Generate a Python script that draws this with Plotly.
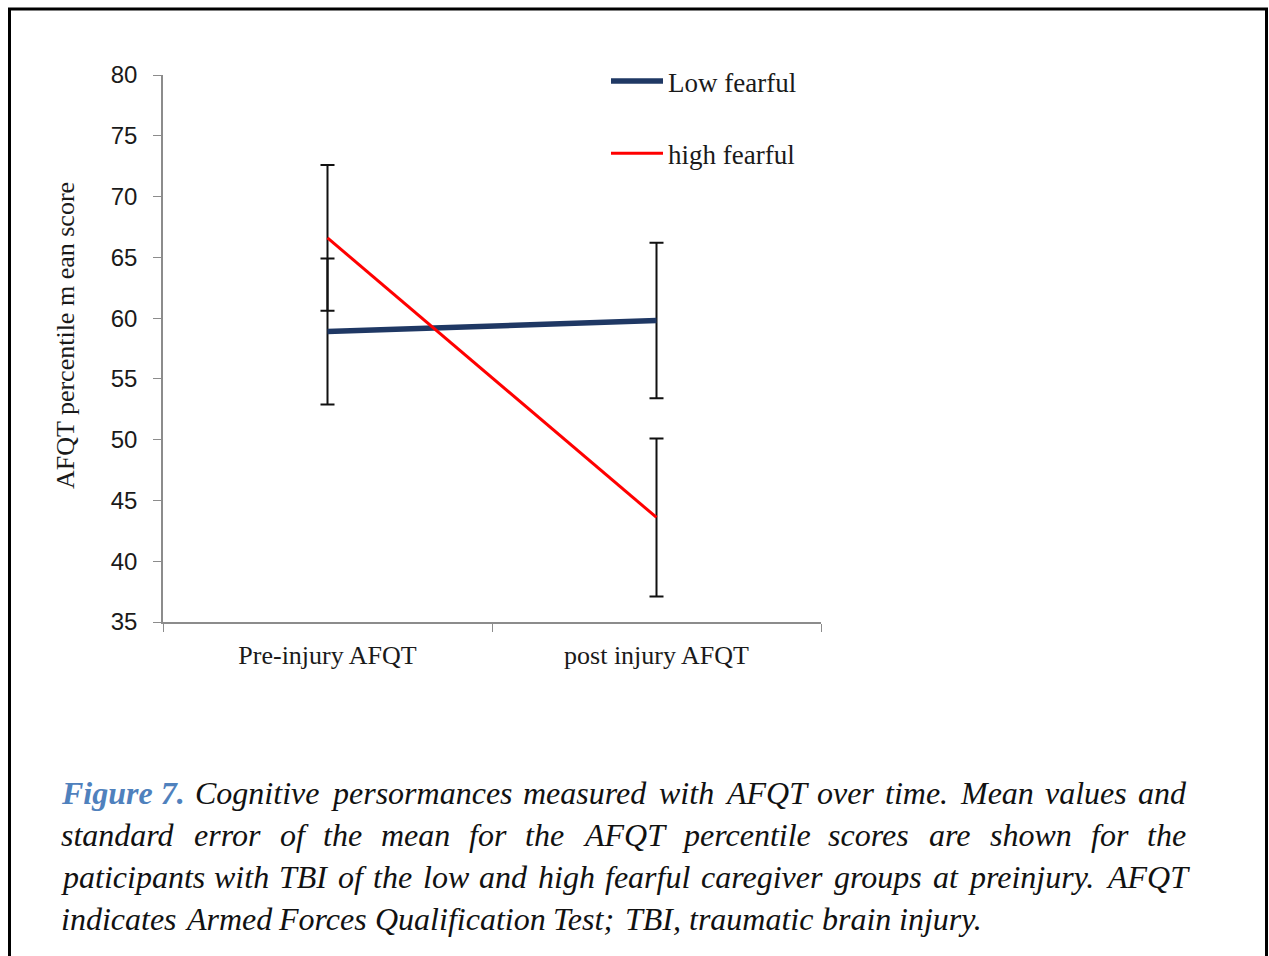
import plotly.graph_objects as go

# Data: AFQT percentile means and standard errors
categories = ["Pre-injury AFQT", "post injury AFQT"]
low_fearful_mean = [58.9, 59.8]
low_fearful_se = [6.0, 6.4]
high_fearful_mean = [66.6, 43.6]
high_fearful_se = [6.0, 6.5]

y_ticks = [35, 40, 45, 50, 55, 60, 65, 70, 75, 80]

W, H = 1269, 956


def px(x):
    return x / W


def py(y):
    return 1 - y / H


fig = go.Figure()

fig.add_trace(go.Scatter(
    x=categories, y=low_fearful_mean, mode="lines", name="Low fearful",
    legendgroup="low",
    line=dict(color="#1F3864", width=5.5),
    error_y=dict(type="data", array=low_fearful_se, visible=True,
                 color="#111111", thickness=2, width=7),
))
fig.add_trace(go.Scatter(
    x=categories, y=high_fearful_mean, mode="lines", name="high fearful",
    legendgroup="high",
    line=dict(color="#FF0000", width=3),
    error_y=dict(type="data", array=high_fearful_se, visible=True,
                 color="#111111", thickness=2, width=7),
))

serif = "Liberation Serif, Times New Roman, serif"
sans = "Liberation Sans, Arial, sans-serif"

fig.update_layout(
    width=W, height=H,
    margin=dict(l=0, r=0, t=0, b=0),
    paper_bgcolor="white", plot_bgcolor="white",
    showlegend=True,
    legend=dict(
        x=px(606), y=py(57), xanchor="left", yanchor="top",
        font=dict(family=serif, size=27, color="#1a1a1a"),
        bgcolor="rgba(0,0,0,0)", tracegroupgap=34,
        traceorder="grouped", itemwidth=52,
    ),
    xaxis=dict(
        domain=[px(163), px(821)], type="category", range=[-0.5, 1.5],
        tickson="boundaries", ticks="outside", ticklen=8, tickcolor="#8c8c8c",
        showline=True, linecolor="#8c8c8c", linewidth=1.5, showgrid=False,
        zeroline=False, automargin=False,
        tickfont=dict(family=serif, size=26, color="#1a1a1a"),
        ticklabelstandoff=9,
    ),
    yaxis=dict(
        domain=[py(622), py(75)], range=[35, 80], tickvals=y_ticks,
        ticks="outside", ticklen=8, tickcolor="#8c8c8c",
        showline=True, linecolor="#8c8c8c", linewidth=1.5, showgrid=False,
        zeroline=False, automargin=False,
        tickfont=dict(family=sans, size=24, color="#1a1a1a"),
        ticklabelstandoff=11,
    ),
)

# Y axis title
fig.add_annotation(
    text="AFQT percentile m ean score", xref="paper", yref="paper",
    x=px(65), y=py(336), textangle=-90, showarrow=False,
    xanchor="center", yanchor="middle",
    font=dict(family=serif, size=26, color="#1a1a1a"),
)

# Frame around the figure
fig.add_shape(type="rect", xref="paper", yref="paper",
              x0=px(9.5), x1=px(1266.5), y0=py(962), y1=py(9),
              line=dict(color="#000000", width=3), fillcolor="rgba(0,0,0,0)")

# Caption text, set as a justified paragraph
caption_lines = [
    ["Figure 7.", "Cognitive", "persormances", "measured", "with", "AFQT", "over",
     "time.", "Mean", "values", "and"],
    ["standard", "error", "of", "the", "mean", "for", "the", "AFQT", "percentile",
     "scores", "are", "shown", "for", "the"],
    ["paticipants", "with", "TBI", "of", "the", "low", "and", "high", "fearful",
     "caregiver", "groups", "at", "preinjury.", "AFQT"],
    ["indicates", "Armed", "Forces", "Qualification", "Test;", "TBI,", "traumatic",
     "brain", "injury."],
]
justified = [True, True, True, False]

# Advance widths (1/1000 em) for the italic serif face
ITALIC = {
    " ": 250, ".": 250, ",": 250, ";": 333, "7": 500,
    "A": 611, "B": 611, "C": 667, "F": 611, "I": 333, "M": 833, "Q": 722, "T": 556,
    "a": 500, "b": 500, "c": 444, "d": 500, "e": 444, "f": 278, "g": 500, "h": 500,
    "i": 278, "j": 278, "k": 444, "l": 278, "m": 722, "n": 500, "o": 500, "p": 500,
    "q": 500, "r": 389, "s": 389, "t": 278, "u": 500, "v": 444, "w": 667, "x": 444,
    "y": 444, "z": 389,
}
BOLD_ITALIC = {" ": 250, ".": 250, "7": 500, "F": 667, "i": 278, "g": 500,
               "u": 556, "r": 389, "e": 444}

cap_size = 32
left_edge, right_edge = 60, 1185
line_y = [793, 835, 877, 919]


def word_width(word, bold=False):
    table = BOLD_ITALIC if bold else ITALIC
    return sum(table.get(ch, 500) for ch in word) * cap_size / 1000.0


for words, yy, just in zip(caption_lines, line_y, justified):
    widths = [word_width(w, bold=(w == "Figure 7.")) for w in words]
    space = ITALIC[" "] * cap_size / 1000.0
    if just:
        gap = (right_edge - left_edge - sum(widths)) / (len(words) - 1)
    else:
        gap = space
    x = left_edge
    for w, wd in zip(words, widths):
        if w == "Figure 7.":
            txt, col = "<b><i>" + w + "</i></b>", "#4F81BD"
        else:
            txt, col = "<i>" + w + "</i>", "#111111"
        fig.add_annotation(
            text=txt, xref="paper", yref="paper",
            x=px(x), y=py(yy), showarrow=False, xanchor="left", yanchor="middle",
            borderpad=0, font=dict(family=serif, size=cap_size, color=col),
        )
        x += wd + gap

fig.write_html("out.html")
